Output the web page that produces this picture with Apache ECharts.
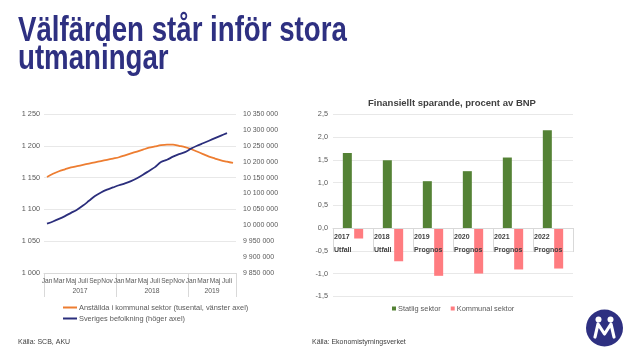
<!DOCTYPE html>
<html>
<head>
<meta charset="utf-8">
<script src="https://cdn.jsdelivr.net/npm/echarts@6/dist/echarts.min.js"></script>
<style>
html,body{margin:0;padding:0;background:#fff;}
#c{width:632px;height:359px;}
</style>
</head>
<body>
<div id="c"></div>
<script>
// ---- Left chart data ----
const months = ['Jan','Feb','Mar','Apr','Maj','Jun','Juli','Aug','Sep','Okt','Nov','Dec'];
const years = ['2017','2018','2019'];
const monthsPerYear = [12, 12, 8];
const anstallda = [1151,1156,1160,1163,1166,1168,1170,1172,1174,1176,1178,1180,
                   1182,1185,1188,1191,1194,1197,1199,1201,1202,1202,1200,1198,
                   1195,1191,1187,1183,1180,1177,1175,1173];
const befolkning = [10005000,10012000,10020000,10029000,10039000,10049000,10062000,10077000,10092000,10103000,10112000,10119000,
                    10126000,10132000,10139000,10148000,10159000,10171000,10183000,10199000,10206000,10216000,10224000,10230000,
                    10241000,10250000,10258000,10266000,10274000,10282000,10290000];
const leftTicks = {min:1000, max:1250, interval:50};
const rightTicks = {min:9850000, max:10350000, interval:50000};
const lineNames = ['Anställda i kommunal sektor (tusental, vänster axel)','Sveriges befolkning (höger axel)'];

// ---- Right chart data ----
const barYears = ['2017','2018','2019','2020','2021','2022'];
const barStatus = ['Utfall','Utfall','Prognos','Prognos','Prognos','Prognos'];
const statlig = [1.65,1.49,1.03,1.25,1.55,2.15];
const kommunal = [-0.23,-0.73,-1.05,-1.00,-0.91,-0.89];
const barTicks = {min:-1.5, max:2.5, interval:0.5};
const barNames = ['Statlig sektor','Kommunal sektor'];

// derived axis data
const monthCats = [];
years.forEach((y,i)=>{ for(let m=0;m<monthsPerYear[i];m++) monthCats.push(months[m]+' '+y); });
const yearPoints = new Array(monthCats.length+1).fill('');
const yearLabelIdx = [], yearTickIdx = [0];
let acc = 0;
years.forEach((y,i)=>{ const mid = acc + monthsPerYear[i]/2; yearPoints[mid] = y; yearLabelIdx.push(mid); acc += monthsPerYear[i]; yearTickIdx.push(acc); });
const barCats = barYears.map((y,i)=>y+'\n'+barStatus[i]);

const FONT = '"Liberation Sans", Arial, sans-serif';
const spaceThousands = v => String(v).replace(/\B(?=(\d{3})+(?!\d))/g,' ');
const NAVY = '#2e3081';

// right grid geometry (styling only)
const G2 = {top:114.3, bottom:62.7, height:359-114.3-62.7};
const zeroOffset = -G2.height * (0 - barTicks.min) / (barTicks.max - barTicks.min);

const chart = echarts.init(document.getElementById('c'), null, {renderer:'canvas'});
chart.setOption({
  animation:false,
  textStyle:{fontFamily:FONT},
  title:{
    text:'Finansiellt sparande, procent av BNP',
    left:447, top:93, textAlign:'center',
    textStyle:{fontSize:9.5, fontWeight:'bold', color:'#404040', fontFamily:FONT}
  },
  legend:[
    {
      data:lineNames, orient:'vertical', left:58, top:299, itemGap:4,
      itemWidth:14, itemHeight:2, icon:'rect',
      textStyle:{fontSize:7.4, color:'#595959', fontFamily:FONT, padding:[0,0,0,-3]}
    },
    {
      data:barNames, left:387, top:300, itemGap:10,
      itemWidth:4, itemHeight:4, icon:'rect',
      textStyle:{fontSize:7.4, color:'#595959', fontFamily:FONT, padding:[0,0,0,-3]}
    }
  ],
  grid:[
    {left:44, right:396, top:114, bottom:86},
    {left:333, right:59, top:G2.top, bottom:G2.bottom}
  ],
  xAxis:[
    {
      type:'category', gridIndex:0, data:monthCats, boundaryGap:true,
      axisLine:{lineStyle:{color:'#d9d9d9'}},
      axisTick:{show:false},
      axisLabel:{interval:1, fontSize:6.6, color:'#595959', margin:5,
        formatter:v=>v.split(' ')[0]}
    },
    {
      type:'category', gridIndex:0, data:yearPoints, boundaryGap:false, position:'bottom',
      axisLine:{show:false},
      axisTick:{show:true, length:24, lineStyle:{color:'#d9d9d9'},
        interval:(i)=>yearTickIdx.includes(i)},
      axisLabel:{interval:(i)=>yearLabelIdx.includes(i), fontSize:6.8, color:'#595959', margin:15}
    },
    {
      type:'category', gridIndex:1, data:barCats, position:'bottom', offset:zeroOffset, z:5,
      axisLine:{onZero:false, lineStyle:{color:'#d9d9d9'}},
      axisTick:{show:true, length:24, lineStyle:{color:'#d9d9d9'}},
      axisLabel:{interval:0, margin:3, lineHeight:12.5,
        formatter:v=>v.split('\n').map(s=>'{a|'+s+'}').join('\n'),
        rich:{a:{width:38, align:'left', fontSize:7, fontWeight:'bold', color:'#404040', fontFamily:FONT, lineHeight:12.5}}
      }
    }
  ],
  yAxis:[
    {
      type:'value', gridIndex:0, position:'left', min:leftTicks.min, max:leftTicks.max, interval:leftTicks.interval,
      axisLine:{show:false}, axisTick:{show:false},
      splitLine:{lineStyle:{color:'#e8e8e8'}},
      axisLabel:{fontSize:7.3, color:'#595959', margin:4, formatter:spaceThousands}
    },
    {
      type:'value', gridIndex:0, position:'right', min:rightTicks.min, max:rightTicks.max, interval:rightTicks.interval,
      axisLine:{show:false}, axisTick:{show:false}, splitLine:{show:false},
      axisLabel:{fontSize:7, color:'#595959', margin:7, formatter:spaceThousands}
    },
    {
      type:'value', gridIndex:1, min:barTicks.min, max:barTicks.max, interval:barTicks.interval,
      axisLine:{show:false}, axisTick:{show:false},
      splitLine:{lineStyle:{color:'#e8e8e8'}},
      axisLabel:{fontSize:7.3, color:'#595959', margin:5, formatter:v=>v.toFixed(1).replace('.',',')}
    }
  ],
  series:[
    {
      name:lineNames[0], type:'line', xAxisIndex:0, yAxisIndex:0, data:anstallda,
      smooth:0.3, showSymbol:false, lineStyle:{color:'#ED7D31', width:1.8}, itemStyle:{color:'#ED7D31'}
    },
    {
      name:lineNames[1], type:'line', xAxisIndex:0, yAxisIndex:1, data:befolkning,
      smooth:0.3, showSymbol:false, lineStyle:{color:'#2b2e7c', width:1.8}, itemStyle:{color:'#2b2e7c'}
    },
    {
      name:barNames[0], type:'bar', xAxisIndex:2, yAxisIndex:2, data:statlig, z:2,
      barWidth:9, barGap:'26%', itemStyle:{color:'#548235'}
    },
    {
      name:barNames[1], type:'bar', xAxisIndex:2, yAxisIndex:2, data:kommunal, z:2,
      barWidth:9, barGap:'26%', itemStyle:{color:'#FF7C80'}
    }
  ],
  graphic:[
    {type:'text', x:18, y:14, scaleX:0.79, style:{text:'Välfärden står inför stora', font:'bold 35px '+FONT, fill:NAVY, verticalAlign:'top'}},
    {type:'text', x:18, y:42, scaleX:0.79, style:{text:'utmaningar', font:'bold 35px '+FONT, fill:NAVY, verticalAlign:'top'}},
    {type:'text', x:18, y:339, style:{text:'Källa: SCB, AKU', font:'7px '+FONT, fill:'#404040'}},
    {type:'text', x:312, y:339, style:{text:'Källa: Ekonomistyrningsverket', font:'7px '+FONT, fill:'#404040'}},
    {type:'circle', shape:{cx:604.5, cy:328, r:18.5}, style:{fill:NAVY}},
    {type:'polyline', shape:{points:[[595,337],[598,324],[604.5,334],[611,324],[614,337]]}, style:{stroke:'#fff', lineWidth:3.2, fill:null, lineJoin:'round', lineCap:'round'}},
    {type:'circle', shape:{cx:598.5, cy:319.5, r:3}, style:{fill:'#fff'}},
    {type:'circle', shape:{cx:610.5, cy:319.5, r:3}, style:{fill:'#fff'}}
  ]
});
</script>
</body>
</html>
